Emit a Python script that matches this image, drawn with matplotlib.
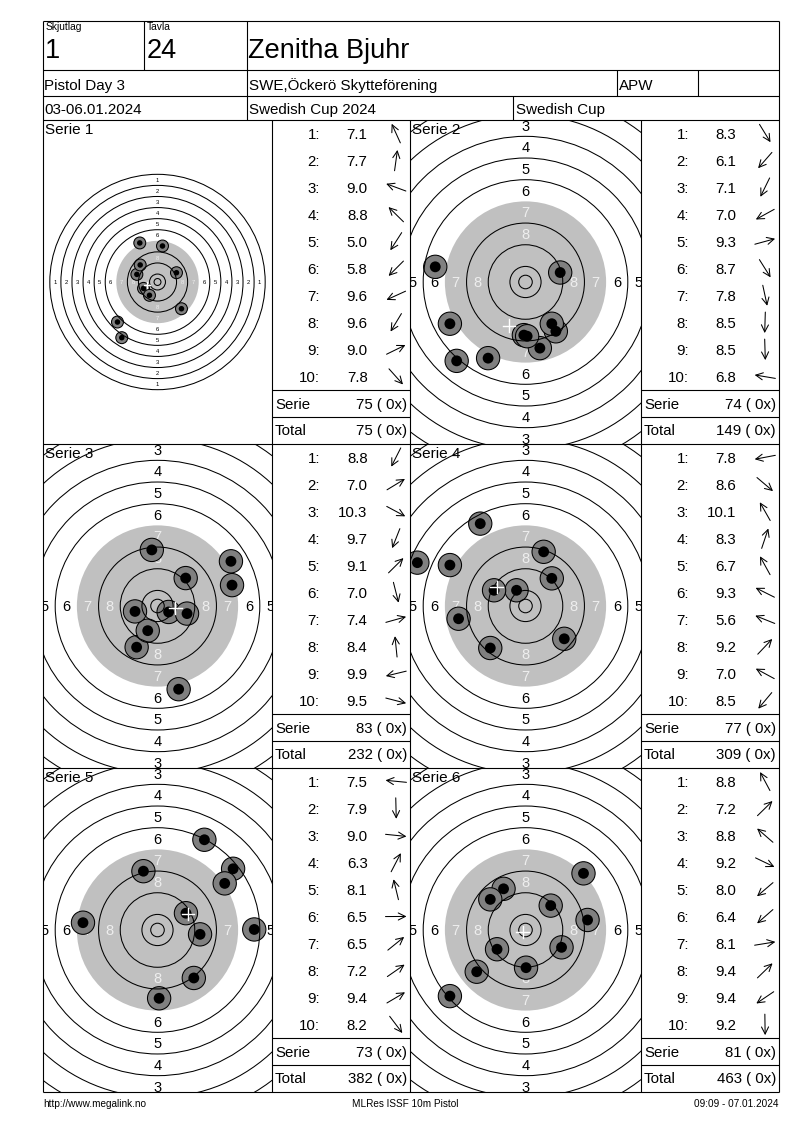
import math
import matplotlib
matplotlib.use("Agg")
import matplotlib.pyplot as plt
from matplotlib.patches import Circle

plt.rcParams['font.family'] = ['Liberation Sans', 'DejaVu Sans']

# ---------------- data ----------------
shooting_group = "1"
target_no = "24"
shooter = "Zenitha Bjuhr"
event = "Pistol Day 3"
club = "SWE,Öckerö Skytteförening"
shooter_class = "APW"
dates = "03-06.01.2024"
competition = "Swedish Cup 2024"
cup = "Swedish Cup"
footer_left = "http://www.megalink.no"
footer_mid = "MLRes ISSF 10m Pistol"
footer_right = "09:09 - 07.01.2024"

series_names = ["Serie 1", "Serie 2", "Serie 3", "Serie 4", "Serie 5", "Serie 6"]

s1_scores = [7.1, 7.7, 9.0, 8.8, 5.0, 5.8, 9.6, 9.6, 9.0, 7.8]
s1_x = [-12.8, 3.6, -14.9, -12.5, -25.8, -28.9, -10.1, -5.8, 13.7, 17.3]
s1_y = [28.2, 26.0, 5.5, 12.3, -40.2, -28.9, -4.6, -9.6, 6.7, -19.3]

s2_scores = [8.3, 6.1, 7.1, 7.0, 9.3, 8.7, 7.8, 8.5, 8.5, 6.8]
s2_x = [11.2, -25.4, -13.8, -27.9, 12.8, 9.7, 5.3, -0.6, 0.6, -33.3]
s2_y = [-18.2, -29.1, -28.1, -15.4, 3.5, -15.4, -24.4, -19.6, -20.0, 5.6]

s3_scores = [8.8, 7.0, 10.3, 9.7, 9.1, 7.0, 7.4, 8.4, 9.9, 9.5]
s3_x = [-7.7, 27.1, 4.1, -3.6, 10.4, 7.8, 27.5, -2.1, -8.3, 10.9]
s3_y = [-15.2, 16.5, -2.2, -9.1, 10.3, -30.7, 7.7, 20.7, -2.0, -2.8]

s4_scores = [7.8, 8.6, 10.1, 8.3, 6.7, 9.3, 5.6, 9.2, 7.0, 8.5]
s4_x = [-24.7, 14.3, -3.3, 6.7, -16.7, -11.6, -39.9, 9.7, -27.9, -13.0]
s4_y = [-4.7, -12.1, 5.8, 20.0, 30.4, 5.8, 16.0, 10.2, 15.1, -15.5]

s5_scores = [7.5, 7.9, 9.0, 6.3, 8.1, 6.5, 6.5, 7.2, 9.4, 8.2]
s5_x = [-27.5, 0.6, 15.7, 17.3, -5.2, 35.7, 27.9, 24.8, 10.5, 13.4]
s5_y = [2.7, -25.2, -1.6, 33.3, 21.7, 0.2, 22.6, 17.2, 6.2, -17.7]

s6_scores = [8.8, 7.2, 8.8, 9.2, 8.0, 6.4, 8.1, 9.4, 9.4, 9.2]
s6_x = [-8.1, 21.4, -13.0, 13.3, -18.0, -27.9, 22.9, 9.3, -10.5, 0.2]
s6_y = [15.2, 20.9, 11.3, -6.4, -15.4, -24.4, 3.7, 9.0, -7.1, -13.9]

serie_totals = [75, 74, 83, 77, 73, 81]
running_totals = [75, 149, 232, 309, 382, 463]
inner_tens = [0, 0, 0, 0, 0, 0]

ring_numbers = [1, 2, 3, 4, 5, 6, 7, 8, 9, 10]

all_scores = [s1_scores, s2_scores, s3_scores, s4_scores, s5_scores, s6_scores]
all_x = [s1_x, s2_x, s3_x, s4_x, s5_x, s6_x]
all_y = [s1_y, s2_y, s3_y, s4_y, s5_y, s6_y]

# ---------------- layout ----------------
W, H = 800, 1130
fig = plt.figure(figsize=(W / 100, H / 100), dpi=100, facecolor='white')

ov = fig.add_axes([0, 0, 1, 1])
ov.set_xlim(0, W)
ov.set_ylim(H, 0)
ov.axis('off')
ov.set_zorder(10)

LW = 0.8
PX = 100 / 72.0


def bl(yc, fs):
    """baseline (pixel, y down) so that cap-height centre sits at yc"""
    return yc + 0.358 * fs * PX


def hline(y, x0, x1):
    ov.plot([x0, x1], [y, y], color='black', lw=LW, solid_capstyle='butt')


def vline(x, y0, y1):
    ov.plot([x, x], [y0, y1], color='black', lw=LW, solid_capstyle='butt')


XL, XR, YT, YB = 43, 779, 21, 1092
# frame + header grid
for y in [YT, 70, 96, 120, 444, 768, YB]:
    hline(y, XL, XR)
vline(XL, YT, YB)
vline(XR, YT, YB)
vline(144.3, YT, 70)
vline(246.7, YT, 120)
vline(616.7, 70, 96)
vline(698.3, 70, 96)
vline(512.7, 96, 120)
for x in [272, 410, 641]:
    vline(x, 120, YB)

# header texts
fs_small, fs_big, fs_row = 7.4, 19.5, 10.9
ov.text(45.5, bl(26.5, fs_small), "Skjutlag", fontsize=fs_small)
ov.text(146.5, bl(26.5, fs_small), "Tavla", fontsize=fs_small)
ov.text(44.5, bl(48.5, fs_big), shooting_group, fontsize=fs_big)
ov.text(146.5, bl(48.5, fs_big), target_no, fontsize=fs_big)
ov.text(248.5, bl(48.5, fs_big), shooter, fontsize=fs_big)
ov.text(44.5, bl(84.5, fs_row), event, fontsize=fs_row)
ov.text(249, bl(84.5, fs_row), club, fontsize=fs_row)
ov.text(618.5, bl(84.5, fs_row), shooter_class, fontsize=fs_row)
ov.text(44.5, bl(109, fs_row), dates, fontsize=fs_row)
ov.text(249, bl(109, fs_row), competition, fontsize=fs_row)
ov.text(515.5, bl(109, fs_row), cup, fontsize=fs_row)

# footer
fs_foot = 7.2
ov.text(43, bl(1103, fs_foot), footer_left, fontsize=fs_foot)
ov.text(405, bl(1103, fs_foot), footer_mid, fontsize=fs_foot, ha='center')
ov.text(779, bl(1103, fs_foot), footer_right, fontsize=fs_foot, ha='right')

row_tops = [120, 444, 768]
target_lefts = [43, 410]
target_rights = [272, 641]
score_lefts = [272, 641]


def ring_radius(n):
    return 5.75 + (10 - n) * 8.0


def draw_target(k, x0, y0, x1, y1, scale):
    ax = fig.add_axes([x0 / W, 1 - y1 / H, (x1 - x0) / W, (y1 - y0) / H])
    cx, cy = (x0 + x1) / 2.0, (y0 + y1) / 2.0
    ax.set_xlim((x0 - cx) / scale, (x1 - cx) / scale)
    ax.set_ylim((cy - y1) / scale, (cy - y0) / scale)
    ax.axis('off')
    half_w = (x1 - x0) / 2.0 / scale
    half_h = (y1 - y0) / 2.0 / scale

    # black aiming area (rings 7-10) shown as grey
    ax.add_patch(Circle((0, 0), ring_radius(7), fc='#c0c0c0', ec='none', zorder=1))

    # ring numbers (only those whose centre lies inside the cell)
    fs_lab = 4.2 if scale < 2 else 10.5
    cap = 0.716 * fs_lab * PX / scale
    for n in ring_numbers[:8]:
        rad = ring_radius(n) - 4.0
        col = '#eeeeee' if n >= 7 else 'black'
        for (px, py) in [(-rad, 0), (rad, 0), (0, rad), (0, -rad)]:
            if abs(px) > half_w + 0.5 or abs(py) > half_h + 0.5:
                continue
            ax.text(px, py - cap / 2, str(n), fontsize=fs_lab, color=col,
                    ha='center', va='baseline', zorder=2, clip_on=True)

    # series title (under ring lines)
    fs_t = 11
    ax.text(x0 + 2, bl(y0 + 8.7, fs_t), series_names[k], fontsize=fs_t,
            transform=ov.transData, zorder=2)

    # shots
    xs, ys = all_x[k], all_y[k]
    for sx, sy in zip(xs, ys):
        ax.add_patch(Circle((sx, sy), 4.3, fc='#808080', ec='black', lw=0.75, zorder=3))
        ax.add_patch(Circle((sx, sy), 2.0, fc='black', ec='none', zorder=3.5))

    # ring lines
    for n in ring_numbers:
        if n == 7:
            continue
        ax.add_patch(Circle((0, 0), ring_radius(n), fill=False, ec='black', lw=0.75, zorder=4))
    ax.add_patch(Circle((0, 0), 2.5, fill=False, ec='black', lw=0.75, zorder=4))

    # mean point of impact
    mx = sum(xs) / len(xs)
    my = sum(ys) / len(ys)
    d = 2.3
    ax.plot([mx - d, mx + d], [my, my], color='white', lw=1.0, zorder=5)
    ax.plot([mx, mx], [my - d, my + d], color='white', lw=1.0, zorder=5)


def draw_scores(k, cl, top):
    fs = 10.8
    scores = all_scores[k]
    xs, ys = all_x[k], all_y[k]
    for i, v in enumerate(scores):
        yc = top + 13.3 + 27.04 * i
        ov.text(cl + 48, bl(yc, fs), f"{i + 1}:", fontsize=fs, ha='right')
        ov.text(cl + 95.5, bl(yc, fs), f"{v:.1f}", fontsize=fs, ha='right')
        ang = math.atan2(ys[i], xs[i])
        ux, uy = math.cos(ang), -math.sin(ang)
        ac = cl + 124
        L = 10.5
        ov.annotate('', xy=(ac + L * ux, yc + L * uy), xytext=(ac - L * ux, yc - L * uy),
                    arrowprops=dict(arrowstyle='->,head_length=0.6,head_width=0.3',
                                    lw=0.75, color='black', shrinkA=0, shrinkB=0,
                                    mutation_scale=8.5))
    hline(top + 269.5, cl, cl + 138)
    hline(top + 296.5, cl, cl + 138)
    ov.text(cl + 3, bl(top + 283.3, fs), "Serie", fontsize=fs)
    ov.text(cl + 135, bl(top + 283.3, fs), f"{serie_totals[k]} ( {inner_tens[k]}x)",
            fontsize=fs, ha='right')
    ov.text(cl + 3, bl(top + 310, fs), "Total", fontsize=fs)
    ov.text(cl + 135, bl(top + 310, fs), f"{running_totals[k]} ( {inner_tens[k]}x)",
            fontsize=fs, ha='right')


for k in range(6):
    r, c = k // 2, k % 2
    top = row_tops[r]
    scale = 1.385 if k == 0 else 2.71
    draw_target(k, target_lefts[c], top, target_rights[c], top + 324, scale)
    draw_scores(k, score_lefts[c], top)

fig.savefig("out.png", dpi=100, facecolor='white')
